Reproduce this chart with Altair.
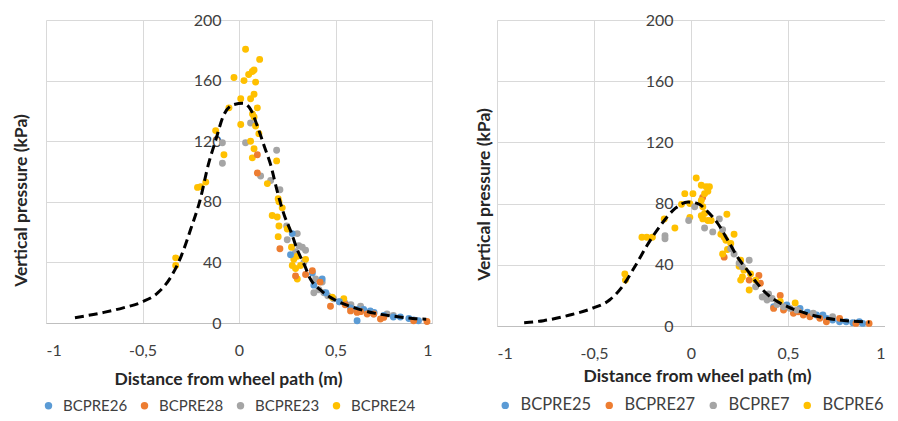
import altair as alt
import pandas as pd

# ---------------- data ----------------
L_SERIES = ["BCPRE26", "BCPRE28", "BCPRE23", "BCPRE24"]
R_SERIES = ["BCPRE25", "BCPRE27", "BCPRE7", "BCPRE6"]
COLORS = ["#5B9BD5", "#ED7D31", "#A5A5A5", "#FFC000"]

L_FIT_X = [-0.85, -0.7, -0.6, -0.5, -0.42, -0.35, -0.3, -0.25, -0.2, -0.16, -0.12, -0.08, -0.03, 0.02,
           0.06, 0.095, 0.13, 0.165, 0.2, 0.235, 0.27, 0.3, 0.34, 0.37, 0.42, 0.5, 0.6, 0.7, 0.8, 0.9, 0.97]
L_FIT_Y = [3.5, 7, 10, 14, 20, 31, 44, 62, 82, 104, 121, 137, 144, 145,
           141, 130, 117, 104, 86, 71, 60, 49, 38, 29, 22, 15, 10, 6.5, 4.5, 3, 2.5]

R_FIT_X = [-0.86, -0.76, -0.63, -0.51, -0.42, -0.355, -0.29, -0.22, -0.15, -0.08, -0.015, 0.035,
           0.087, 0.138, 0.19, 0.24, 0.29, 0.34, 0.4, 0.5, 0.6, 0.7, 0.8, 0.92]
R_FIT_Y = [2.2, 3.5, 7, 11.5, 17, 25.6, 38.7, 54, 67, 77, 81, 80,
           74.6, 67, 56, 45, 36.5, 28, 20, 12.5, 8, 5, 3.5, 2.5]

# left panel points
L26_X = [0.276, 0.267, 0.38, 0.431, 0.388, 0.578, 0.612, 0.646, 0.68, 0.612, 0.75, 0.8, 0.836, 0.88, 0.905, 0.93, 0.45, 0.52, 0.7]
L26_Y = [59, 45, 33, 29, 25, 10, 9, 9, 8, 1.5, 5, 4, 4, 3, 2, 1.5, 20, 14, 7]
L28_X = [0.095, 0.095, 0.212, 0.293, 0.38, 0.345, 0.474, 0.578, 0.612, 0.63, 0.664, 0.698, 0.733, 0.75, 0.905, 0.974, 0.42, 0.55]
L28_Y = [111, 99, 49, 31, 34.5, 32, 11, 8, 7, 7.5, 6, 6, 2.6, 3.7, 1.5, 1, 27, 12]
L23_X = [-0.086, -0.086, 0.034, 0.06, 0.195, 0.112, 0.164, 0.212, 0.247, 0.25, 0.302, 0.31, 0.328, 0.345, 0.293,
         0.336, 0.397, 0.431, 0.388, 0.414, 0.44, 0.46, 0.49, 0.52, 0.55, 0.58, 0.63, 0.698, 0.767, 0.8]
L23_Y = [119, 105.5, 119, 132, 114, 97, 94, 88, 64, 55, 59, 51, 50, 48, 47,
         40, 29, 27, 20, 22, 20, 18, 16, 14, 13, 12, 11, 6, 6, 5]
L24_X = [0.034, 0.107, -0.026, 0.026, 0.05, 0.069, 0.078, 0.086, 0.078, 0.06, 0.009, 0.095, -0.052, -0.121, 0.009,
         0.07, 0.078, 0.086, 0.103, 0.06, -0.078, 0.069, 0.078, -0.198, -0.172, -0.215, 0.147, 0.195, 0.203, 0.207,
         0.224, 0.172, 0.198, 0.207, 0.203, 0.25, 0.272, 0.284, 0.276, 0.302, 0.293, 0.302, 0.319, 0.345,
         -0.328, -0.328, 0.483, 0.543]
L24_Y = [180.7, 174, 162, 160, 164, 166, 167, 159, 151, 148, 148, 142, 142, 127, 131,
         138, 136, 130, 125, 120, 111, 109, 115, 90, 93, 89.5, 92, 107, 82, 80,
         76, 71, 70, 64, 57, 62, 50, 42, 38, 44, 36, 29, 38, 42,
         43, 38, 17, 16]

# right panel points
R25_X = [0.494, 0.562, 0.647, 0.68, 0.73, 0.766, 0.8, 0.834, 0.868, 0.885, 0.426, 0.6, 0.7]
R25_Y = [13.7, 11.5, 7.2, 7.2, 3.9, 2.8, 2.8, 2.2, 2.8, 1.7, 12.6, 9, 5]
R27_X = [0.06, 0.171, 0.35, 0.358, 0.46, 0.426, 0.477, 0.528, 0.579, 0.613, 0.664, 0.698, 0.766, 0.85, 0.918, 0.553, 0.3]
R27_Y = [84, 45, 33, 28, 20, 11.5, 10.4, 8.3, 7.2, 6.1, 5, 2.8, 5, 1.7, 1.7, 9.3, 30]
R7_X = [-0.134, -0.134, -0.012, 0.019, 0.07, 0.112, 0.146, 0.163, 0.205, 0.222, 0.248, 0.265, 0.3, 0.333,
        0.367, 0.384, 0.4, 0.392, 0.418, 0.443, 0.477, 0.511, 0.545, 0.63, 0.73]
R7_Y = [59, 57, 69, 78, 64, 61.5, 70, 63, 50.5, 47, 41, 38.7, 43, 25.6,
        19, 20, 21, 17, 18, 14, 12.6, 11.5, 10.4, 8.3, 6]
R6_X = [0.027, -0.032, 0.01, 0.053, 0.078, 0.095, 0.07, 0.087, -0.006, -0.049, -0.138, -0.083, -0.006, 0.053,
        0.061, 0.07, 0.087, 0.104, 0.053, 0.061, 0.185, -0.253, -0.228, -0.199, -0.341, -0.338, 0.154, 0.171,
        0.18, 0.205, 0.188, 0.163, 0.222, 0.256, 0.248, 0.273, 0.265, 0.3, 0.307, 0.333, 0.256, 0.46, 0.537]
R6_Y = [96.7, 86.5, 86.5, 92, 91, 91, 86.5, 88, 80, 79.5, 70, 64, 71, 82,
        78, 73.5, 69, 69, 72, 70, 73, 58, 58, 58, 34, 30, 60, 58,
        56, 54, 50, 47, 60, 43, 39, 36.5, 32, 23.5, 34, 30, 30, 16, 15]

X_TICKS = [-1, -0.5, 0, 0.5, 1]
Y_TICKS = [0, 40, 80, 120, 160, 200]

FONT = "Lato"
TXT = "#404040"


def points_frame(names, xs_list, ys_list):
    rows = []
    for name, xs, ys in zip(names, xs_list, ys_list):
        for x, y in zip(xs, ys):
            rows.append({"series": name, "x": x, "y": y})
    return pd.DataFrame(rows)


def panel(names, xs_list, ys_list, fit_x, fit_y, w, h, ytitle_dx, ytitle_y, xtitle_x, xtitle_pad,
          legend_x, legend_y, legend_font, legend_pad):
    pts = points_frame(names, xs_list, ys_list)
    fit = pd.DataFrame({"x": fit_x, "y": fit_y})
    xenc = alt.X("x:Q", scale=alt.Scale(domain=[-1, 1], nice=False),
                 axis=alt.Axis(values=X_TICKS, title="Distance from wheel path (m)",
                               labelExpr="replace(toString(datum.value), '.', ',')",
                               grid=True, ticks=False, tickSize=0, labelPadding=19,
                               domain=True, domainColor="#BFBFBF",
                               titleX=xtitle_x, titlePadding=xtitle_pad))
    yenc = alt.Y("y:Q", scale=alt.Scale(domain=[0, 200], nice=False),
                 axis=alt.Axis(values=Y_TICKS, title="Vertical pressure (kPa)",
                               grid=True, ticks=False, tickSize=0, domain=False,
                               offset=-w / 2, labelPadding=18,
                               titleX=-w / 2 + ytitle_dx, titleY=ytitle_y, titleBaseline="middle"))
    dots = alt.Chart(pts).mark_circle(size=48, opacity=1).encode(
        x=xenc, y=yenc,
        color=alt.Color("series:N", scale=alt.Scale(domain=names, range=COLORS),
                        legend=alt.Legend(title=None, orient="none", direction="horizontal",
                                          legendX=legend_x, legendY=legend_y, symbolType="circle",
                                          symbolSize=55, labelFontSize=legend_font, labelFont=FONT,
                                          labelColor=TXT, columnPadding=legend_pad, labelOffset=7,
                                          padding=0)),
        order=alt.Order("series:N"),
    )
    line = alt.Chart(fit).mark_line(color="black", strokeWidth=3, strokeDash=[9, 5],
                                    interpolate="monotone").encode(x="x:Q", y="y:Q")
    return alt.layer(dots, line).properties(width=w, height=h)


left = panel(L_SERIES, [L26_X, L28_X, L23_X, L24_X], [L26_Y, L28_Y, L23_Y, L24_Y],
             L_FIT_X, L_FIT_Y, 386, 303, -25, 180, 182, 12, -5, 378, 15, 9)
right = panel(R_SERIES, [R25_X, R27_X, R7_X, R6_X], [R25_Y, R27_Y, R7_Y, R6_Y],
              R_FIT_X, R_FIT_Y, 388, 306, -13, 174, 200, 6, 0, 377, 16.5, 9)

chart = alt.hconcat(left, right, spacing=41).resolve_scale(color="independent").properties(
    padding={"left": 3, "top": 4, "right": 0, "bottom": 0}
).configure_view(strokeWidth=0).configure_axis(
    labelFont=FONT, labelFontSize=16, labelColor=TXT,
    titleFont=FONT, titleFontSize=17.5, titleFontWeight="bold", titleColor="#262626",
    gridColor="#D9D9D9", gridWidth=1,
)

chart.save("out.html", embed_options={"renderer": "svg", "actions": False})
